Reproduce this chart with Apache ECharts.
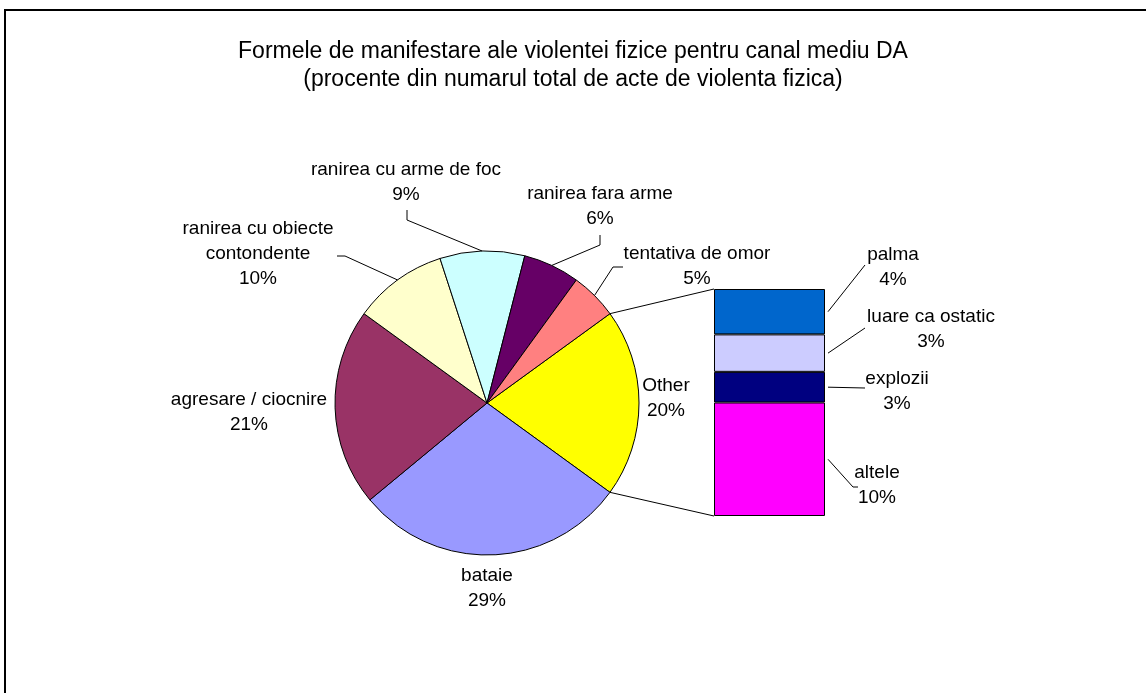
<!DOCTYPE html>
<html><head><meta charset="utf-8">
<script src="https://cdn.jsdelivr.net/npm/echarts@6/dist/echarts.min.js"></script>
<style>html,body{margin:0;padding:0;background:#fff}#c{width:1146px;height:693px}</style>
</head><body><div id="c"></div>
<script>
// ---- data ----
const barNames = ['altele', 'explozii', 'luare ca ostatic', 'palma'];
const barValues = [10.0, 2.7, 3.3, 4.0];
const barColors = ['#FF00FF', '#000080', '#CCCCFF', '#0066CC'];
const otherValue = barValues.reduce((a, b) => a + b, 0); // 20
const pieNames = ['Other', 'bataie', 'agresare / ciocnire', 'ranirea cu obiecte\ncontondente', 'ranirea cu arme de foc', 'ranirea fara arme', 'tentativa de omor'];
const pieValues = [otherValue, 29, 21, 10, 9, 6, 5];
const pieColors = ['#FFFF00', '#9999FF', '#993366', '#FFFFCC', '#CCFFFF', '#660066', '#FF8080'];
const titleText = 'Formele de manifestare ale violentei fizice pentru canal mediu DA\n(procente din numarul total de acte de violenta fizica)';

// ---- layout (not data) ----
const FONT = 'Liberation Sans, Arial, sans-serif';
const pieCenter = [487, 403], pieR = 152, startAngle = 36;
const gridBox = { left: 714, top: 289, width: 111, height: 227 };
const pieLabelPos = [[666, 398], [487, 588], [249, 412], [258, 254], [406, 182], [600, 206], [697, 266]];
const barLabelPos = [[877, 485], [897, 391], [931, 329], [893, 267]];
// label-side elbow points of the leader lines (null = no leader line)
const pieLeader = [null, null, null, [[337, 256], [345, 256]], [[407, 210], [407, 220]], [[600, 235], [600, 245]], [[623, 267], [613, 267]]];
const barLeader = [[[858, 487], [853, 487]], [[865, 388]], [[865, 328]], [[865, 265]]];

const total = pieValues.reduce((a, b) => a + b, 0);

const chart = echarts.init(document.getElementById('c'), null, { renderer: 'canvas' });

const labelStyle = { color: '#000', fontFamily: FONT, fontSize: 19, lineHeight: 25, align: 'center' };

const barSeries = barNames.map((n, i) => ({
  type: 'bar', name: n, stack: 's', data: [barValues[i]],
  barWidth: '100%',
  itemStyle: { color: barColors[i], borderColor: '#000', borderWidth: 1 },
  label: Object.assign({ show: true, position: 'right', formatter: p => p.seriesName + '\n' + Math.round(p.value / total * 100) + '%' }, labelStyle),
  labelLayout: () => ({ x: barLabelPos[i][0], y: barLabelPos[i][1], align: 'center', verticalAlign: 'middle' }),
  emphasis: { disabled: true }
}));

// connector lines from pie "Other" slice edges to bar corners
const rad = d => d * Math.PI / 180;
const piePoint = (deg, r) => [pieCenter[0] + r * Math.cos(rad(deg)), pieCenter[1] - r * Math.sin(rad(deg))];
const p1 = piePoint(startAngle, pieR);
const p2 = piePoint(startAngle - otherValue / total * 360, pieR);

chart.setOption({
  animation: false,
  backgroundColor: '#fff',
  title: {
    text: titleText, left: 568, top: 33, textAlign: 'center',
    textStyle: { fontFamily: FONT, fontSize: 23, fontWeight: 'normal', color: '#000', lineHeight: 28 }
  },
  grid: Object.assign({}, gridBox),
  xAxis: { type: 'category', data: [''], show: false },
  yAxis: { type: 'value', min: 0, max: otherValue, show: false },
  series: [{
    type: 'pie', center: pieCenter, radius: pieR, startAngle: startAngle, clockwise: true,
    data: pieNames.map((n, i) => ({ name: n, value: pieValues[i], itemStyle: { color: pieColors[i] } })),
    itemStyle: { borderColor: '#000', borderWidth: 1 },
    label: Object.assign({ show: true, position: 'outside', formatter: '{b}\n{d}%' }, labelStyle),
    labelLine: { show: false },
    labelLayout: p => ({ x: pieLabelPos[p.dataIndex][0], y: pieLabelPos[p.dataIndex][1], align: 'center', verticalAlign: 'middle' }),
    emphasis: { disabled: true },
    avoidLabelOverlap: false
  }].concat(barSeries)
});

// leader lines: pie side at each slice's mid angle, bar side at each segment's middle
const graphics = [
  { type: 'rect', shape: { x: 5, y: 10, width: 1300, height: 900 }, style: { fill: 'none', stroke: '#000', lineWidth: 2 }, silent: true, z: -10 },
  { type: 'line', shape: { x1: p1[0], y1: p1[1], x2: gridBox.left, y2: gridBox.top }, style: { stroke: '#000', lineWidth: 1 }, silent: true },
  { type: 'line', shape: { x1: p2[0], y1: p2[1], x2: gridBox.left, y2: gridBox.top + gridBox.height }, style: { stroke: '#000', lineWidth: 1 }, silent: true }
];
let cum = 0;
pieValues.forEach((v, i) => {
  const mid = startAngle - (cum + v / 2) / total * 360;
  cum += v;
  if (!pieLeader[i]) return;
  const pts = pieLeader[i].concat([piePoint(mid, pieR)]);
  graphics.push({ type: 'polyline', shape: { points: pts }, style: { stroke: '#000', lineWidth: 1, fill: 'none' }, silent: true, z: 10 });
});
let bcum = 0;
barValues.forEach((v, i) => {
  const yMid = chart.convertToPixel({ yAxisIndex: 0 }, bcum + v / 2);
  bcum += v;
  const pts = barLeader[i].concat([[gridBox.left + gridBox.width + 3, yMid]]);
  graphics.push({ type: 'polyline', shape: { points: pts }, style: { stroke: '#000', lineWidth: 1, fill: 'none' }, silent: true, z: 10 });
});
chart.setOption({ graphic: graphics });
</script></body></html>
